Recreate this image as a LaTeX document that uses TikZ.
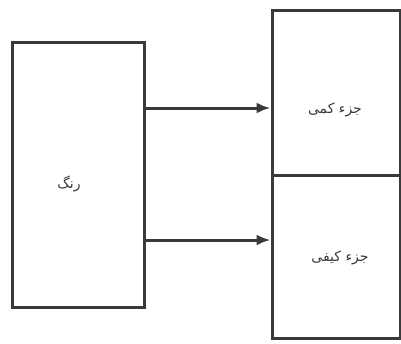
\documentclass[tikz,border=0pt]{standalone}
\usepackage{fontspec}
\newfontfamily\arabicfont[Script=Arabic]{DejaVu Sans}
\TeXXeTstate=1
\usetikzlibrary{arrows.meta}
\definecolor{ln}{HTML}{3A3A3A}
\begin{document}
\begin{tikzpicture}[x=1pt,y=-1pt,
  box/.style={draw=ln,line width=3pt,inner sep=0pt},
  lbl/.style={font=\arabicfont\fontsize{14}{16}\selectfont,text=ln},
  conn/.style={draw=ln,line width=3pt,-{Latex[length=14pt,width=11pt]}}]
\useasboundingbox (0,0) rectangle (401,343);
\fill[white] (0,0) rectangle (401,343);
\node[box,minimum width=132pt,minimum height=265pt] (src) at (78,174.5) {};
\node[box,minimum width=128pt,minimum height=165pt] (q1) at (336,92.5) {};
\node[box,minimum width=128pt,minimum height=163pt] (q2) at (336,256.5) {};
\node[lbl] (t0) at (69,184) {\beginR رنگ\endR};
\node[lbl] (t1) at (335,110) {\beginR جزء کمی\endR};
\node[lbl] (t2) at (340,258) {\beginR جزء کیفی\endR};
\coordinate (a1) at (src.east |- 0,108);
\coordinate (a2) at (src.east |- 0,240);
\draw[conn] (a1) -- (a1 -| q1.west);
\draw[conn] (a2) -- (a2 -| q2.west);
\end{tikzpicture}
\end{document}
